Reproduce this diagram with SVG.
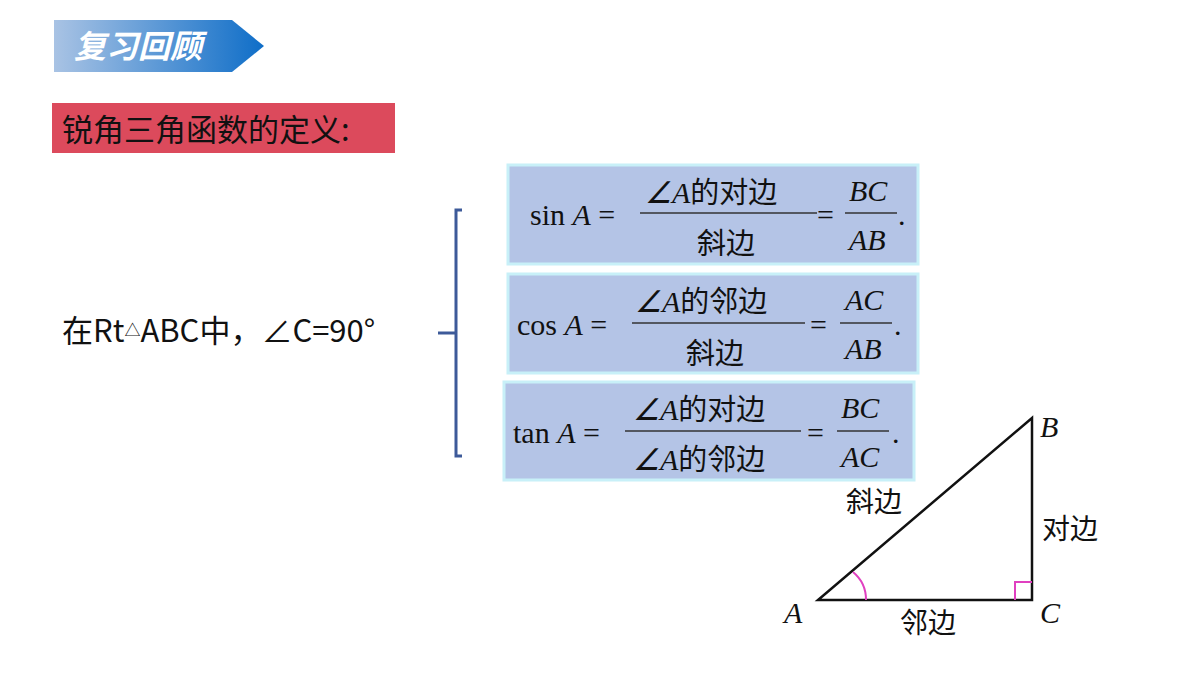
<svg xmlns="http://www.w3.org/2000/svg" width="1200" height="675" viewBox="0 0 1200 675">
<defs>
<linearGradient id="g" x1="0" x2="1" y1="0" y2="0"><stop offset="0" stop-color="#a9c3e4"/><stop offset="1" stop-color="#0f6ec8"/></linearGradient>
<style>
.cn{font-family:"Noto Sans CJK SC","Noto Sans",sans-serif}
.m{font-family:"Liberation Serif",serif;font-size:30px;fill:#111}
.i{font-style:italic}
.box{fill:#b4c4e6;stroke:#c8f0f8;stroke-width:3}
.fl{stroke:#333;stroke-width:1.5}
</style>
</defs>
<rect width="1200" height="675" fill="#fff"/>
<g id="title"><polygon points="54,20 232,20 264,46 232,72 54,72" fill="url(#g)"/>
<text x="74" y="58" class="cn" font-size="32" font-weight="bold" font-style="italic" fill="#fff">复习回顾</text></g>
<g id="heading"><rect x="52" y="103" width="343" height="50" fill="#dc4a5c"/>
<text x="62" y="141" class="cn" font-size="31" fill="#111">锐角三角函数的定义:</text></g>
<g id="cond"><text x="62" y="342" class="cn" font-size="31" fill="#111">在Rt<tspan font-size="16" dy="-6">△</tspan><tspan dy="6">ABC中，∠C=90°</tspan></text></g>
<g id="connectors" fill="none" stroke="#3d5a99" stroke-width="3">
<path d="M462,210 H456 V456 H462"/><path d="M438,333 H456"/>
</g>
<g id="sin"><rect class="box" x="508" y="165" width="410" height="99"/>
<text class="m" x="530" y="225">sin <tspan class="i">A</tspan> =</text>
<text class="m" x="645" y="203"><tspan class="i">∠A</tspan><tspan class="cn" font-size="29">的对边</tspan></text>
<line class="fl" x1="640" y1="213" x2="817" y2="213"/>
<text class="cn" x="697" y="254" font-size="29" fill="#111">斜边</text>
<text class="m" x="817" y="225">=</text>
<line class="fl" x1="845" y1="213" x2="897" y2="213"/>
<text class="m i" x="849" y="201">BC</text><text class="m i" x="849" y="250">AB</text><text class="m" x="898" y="225">.</text></g>
<g id="cos"><rect class="box" x="508" y="274" width="410" height="99"/>
<text class="m" x="517" y="335">cos <tspan class="i">A</tspan> =</text>
<text class="m" x="635" y="312"><tspan class="i">∠A</tspan><tspan class="cn" font-size="29">的邻边</tspan></text>
<line class="fl" x1="632" y1="323" x2="805" y2="323"/>
<text class="cn" x="686" y="364" font-size="29" fill="#111">斜边</text>
<text class="m" x="810" y="335">=</text>
<line class="fl" x1="840" y1="323" x2="892" y2="323"/>
<text class="m i" x="845" y="310">AC</text><text class="m i" x="845" y="359">AB</text><text class="m" x="894" y="335">.</text></g>
<g id="tan"><rect class="box" x="504" y="382" width="410" height="98"/>
<text class="m" x="513" y="443">tan <tspan class="i">A</tspan> =</text>
<text class="m" x="633" y="420"><tspan class="i">∠A</tspan><tspan class="cn" font-size="29">的对边</tspan></text>
<line class="fl" x1="625" y1="431" x2="801" y2="431"/>
<text class="m" x="633" y="470"><tspan class="i">∠A</tspan><tspan class="cn" font-size="29">的邻边</tspan></text>
<text class="m" x="807" y="443">=</text>
<line class="fl" x1="837" y1="431" x2="889" y2="431"/>
<text class="m i" x="841" y="418">BC</text><text class="m i" x="841" y="467">AC</text><text class="m" x="892" y="443">.</text></g>
<g id="triangle">
<polygon points="818,600 1032,600 1032,418" fill="none" stroke="#111" stroke-width="2.5"/>
<path d="M853,572 A36,36 0 0 1 866,600" fill="none" stroke="#e040c0" stroke-width="2"/>
<path d="M1015,600 V582 H1032" fill="none" stroke="#e040c0" stroke-width="2"/>
<text class="m i" x="784" y="623">A</text><text class="m i" x="1040" y="437">B</text><text class="m i" x="1040" y="623">C</text>
<text class="cn" x="846" y="512" font-size="28" fill="#111">斜边</text>
<text class="cn" x="1042" y="539" font-size="28" fill="#111">对边</text>
<text class="cn" x="900" y="633" font-size="28" fill="#111">邻边</text>
</g>
</svg>
